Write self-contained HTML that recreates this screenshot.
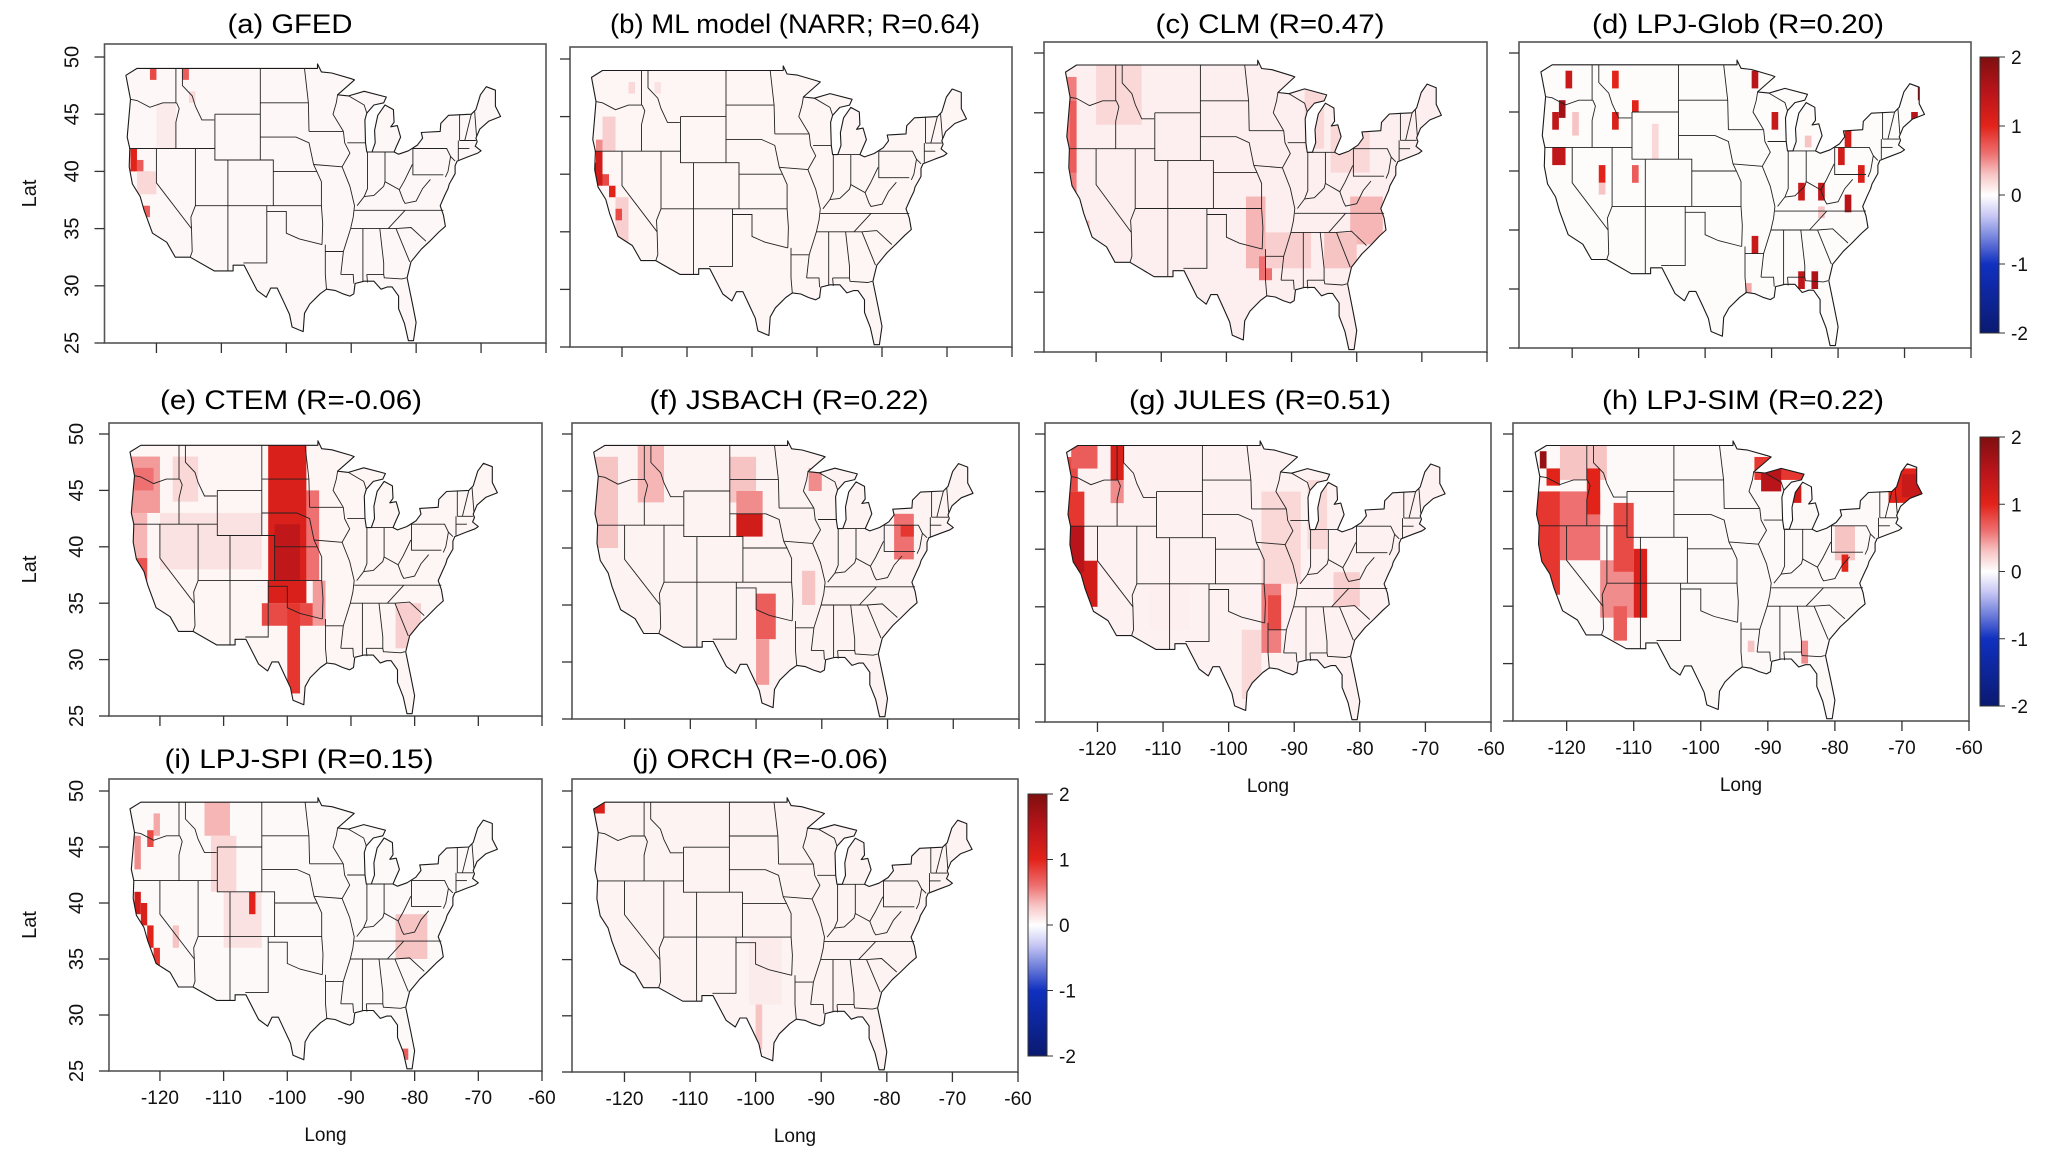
<!DOCTYPE html>
<html><head><meta charset="utf-8"><title>Fire emission maps</title>
<style>
html,body{margin:0;padding:0;background:#fff;}
svg{display:block;font-family:"Liberation Sans",sans-serif;}
</style></head>
<body>
<svg id="fig" width="2067" height="1155" viewBox="0 0 2067 1155" xmlns="http://www.w3.org/2000/svg">
<rect x="0" y="0" width="2067" height="1155" fill="#fff"/>
</svg>
<script>
// ---- data ----
const latTicks = [25, 30, 35, 40, 45, 50];
const lonTicks = [-120, -110, -100, -90, -80, -70, -60];
const cbTicks = [2, 1, 0, -1, -2];

const baseA = 0.04;
const cellsA = [[-124,40,-123,42,1.0],[-123,40,-122,41,0.7],[-122,39,-121,40,0.6],[-122,36,-121,37,0.7],[-121,48,-120,49,0.8],[-116,48,-115,49,0.7],[-123,38,-120,40,0.2],[-120,42,-117,46,0.1],[-115,46,-114,47,0.2]];
const baseB = 0.05;
const cellsB = [[-123,42,-121,45,0.25],[-121,34,-119,38,0.25],[-124,41,-123,43,0.5],[-125,40,-124,41,1.6],[-124,39,-123,42,1.2],[-123,39,-122,40,0.8],[-122,38,-121,39,1.0],[-121,36,-120,37,0.8],[-119,47,-118,48,0.2],[-115,47,-114,48,0.15]];
const baseC = 0.08;
const cellsC = [[-125,36,-123,48,0.55],[-124,40,-123,46,0.7],[-117,45,-116,49,0.45],[-123,33,-121,36,0.35],[-120,44,-113,49,0.2],[-97,32,-94,38,0.35],[-95,31,-93,33,0.6],[-94,32,-87,35,0.25],[-81,34,-76,38,0.35],[-85,32,-80,35,0.3],[-84,40,-78,44,0.2],[-88,42,-85,47,0.2]];
const baseD = 0.02;
const cellsD = [[-121,47,-120,48.5,1.3],[-114,47,-113,48.5,1.0],[-93,47,-92,48.5,1.5],[-122,44.5,-121,46,1.7],[-123,43.5,-122,45,1.4],[-114,43.5,-113,45,1.1],[-111,45,-110,46,1.0],[-90,43.5,-89,45,1.3],[-68,46,-67,47.5,1.8],[-69,43.5,-68,45,1.5],[-123,40.5,-121,42,1.4],[-116,39,-115,40.5,1.0],[-111,39,-110,40.5,0.7],[-79,42,-78,43.5,1.2],[-80,40.5,-79,42,1.2],[-77,39,-76,40.5,1.1],[-86,37.5,-85,39,1.3],[-83,37.5,-82,39,1.4],[-79,36.5,-78,38,1.5],[-93,33,-92,34.5,1.3],[-86,30,-85,31.5,1.4],[-84,30,-83,31.5,1.6],[-94,29,-93,30.5,0.4],[-116,38,-115,39,0.3],[-120,43,-119,45,0.3],[-108,41,-107,44,0.2],[-85,42,-84,43,0.3],[-83,36,-82,37,0.3]];
const baseE = 0.05;
const cellsE = [[-120,38,-104,43,0.15],[-118,44,-114,48,0.2],[-125,38,-122,43,0.35],[-125,43,-120,48,0.45],[-124,45,-121,47,0.6],[-124,36,-122,39,0.75],[-97,37,-95,45,0.6],[-96,33,-94,37,0.45],[-104,33,-96,35,0.8],[-103,35,-97,49,1.1],[-102,37,-98,42,1.4],[-100,27,-98,35,0.9],[-83,31,-79,35,0.25]];
const baseF = 0.06;
const cellsF = [[-125,40,-121,48,0.3],[-118,44,-114,49,0.35],[-104,44,-100,48,0.3],[-93,35,-91,38,0.3],[-103,43,-99,45,0.5],[-103,41,-99,43,1.2],[-100,32,-97,36,0.7],[-100,28,-98,32,0.45],[-79,39,-76,43,0.6],[-78,41,-76,42,0.9],[-92,45,-90,47,0.5]];
const baseG = 0.07;
const cellsG = [[-112,33,-106,37,0.08],[-95,37,-89,45,0.2],[-88,40,-85,46,0.2],[-84,35,-80,38,0.25],[-98,27,-95,33,0.2],[-124,33,-121,35,0.5],[-125,42,-122,45,0.9],[-125,45,-123,48,0.8],[-124,47,-120,49,0.7],[-124,35,-122,38,0.9],[-123,35,-120,39,1.2],[-125,38,-122,42,1.5],[-118,44,-116,46,0.5],[-118,46,-116,49,1.1],[-95,31,-92,37,0.55],[-94,33,-92,36,0.8]];
const baseH = 0.03;
const cellsH = [[-121,46,-114,49,0.3],[-80,39,-77,42,0.3],[-125,36,-121,45,0.9],[-121,39,-115,45,0.6],[-115,34,-110,39,0.5],[-117,43,-115,47,1.0],[-113,38,-110,44,0.8],[-110,34,-108,40,1.1],[-113,32,-111,35,0.7],[-124,47,-123,48.5,1.8],[-123,45.5,-121,47,1.0],[-92,46,-83,48,0.9],[-91,45,-88,47,1.5],[-87,44,-85,45.5,1.2],[-72,44,-67,47,1.0],[-70,44.5,-67,46.5,1.3],[-79,38,-78,39.5,1.0],[-85,30,-84,32,0.5],[-93,31,-92,32,0.3],[-85,28,-84,29,0.4]];
const baseI = 0.03;
const cellsI = [[-113,46,-109,49,0.35],[-112,41,-108,46,0.2],[-110,36,-104,41,0.15],[-83,35,-78,39,0.3],[-121,46,-120,48,0.4],[-118,36,-117,38,0.3],[-124,43,-123,46,0.5],[-124,39,-123,41,1.2],[-123,38,-122,40,1.1],[-122,36,-121,38,1.0],[-121,34,-120,36,0.9],[-122,45,-121,46.5,0.8],[-106,39,-105,41,1.0],[-82,26,-81,27,0.7]];
const baseJ = 0.06;
const cellsJ = [[-101,31,-96,37,0.1],[-100,27,-99,31,0.3],[-125,48,-123,49.5,1.1]];

// ---- geography (lon, lat) ----
const outline = [[-124.7,48.4],[-123.0,49.0],[-95.2,49.0],[-95.2,49.4],[-94.6,48.7],[-93.0,48.6],[-90.0,48.1],[-89.5,48.0],[-92.1,46.7],[-90.4,46.6],[-88.0,47.0],[-84.6,46.5],[-85.0,46.0],[-86.5,45.8],[-87.6,45.1],[-87.9,44.5],[-87.8,42.5],[-87.6,41.7],[-86.8,41.7],[-86.3,42.5],[-86.4,43.6],[-85.9,44.9],[-84.8,45.8],[-83.5,45.4],[-83.4,44.3],[-83.9,43.9],[-82.9,44.0],[-82.4,43.0],[-83.1,42.1],[-83.4,41.7],[-82.7,41.5],[-81.2,41.8],[-79.8,42.3],[-79.0,42.9],[-79.2,43.4],[-76.3,43.5],[-76.2,44.2],[-75.0,44.9],[-71.5,45.0],[-70.8,45.4],[-70.1,46.7],[-69.2,47.4],[-67.8,47.1],[-67.8,45.7],[-67.0,44.8],[-68.8,44.4],[-70.2,43.7],[-70.8,42.9],[-70.6,42.6],[-70.9,42.2],[-70.0,41.8],[-70.5,41.6],[-71.9,41.3],[-73.7,40.9],[-74.0,40.5],[-74.0,39.8],[-74.9,38.9],[-75.1,38.5],[-75.6,37.9],[-76.3,37.0],[-75.8,36.2],[-75.5,35.2],[-76.5,34.7],[-77.9,33.9],[-79.2,33.2],[-80.8,32.1],[-81.4,30.7],[-80.6,28.5],[-80.0,26.8],[-80.4,25.2],[-81.2,25.2],[-81.8,26.7],[-82.7,28.0],[-82.7,29.1],[-83.7,29.9],[-84.4,29.9],[-85.4,29.7],[-86.5,30.4],[-88.0,30.4],[-89.4,30.2],[-89.6,29.3],[-90.2,29.1],[-91.3,29.3],[-92.5,29.6],[-93.8,29.7],[-94.8,29.3],[-96.4,28.4],[-97.2,27.6],[-97.4,26.0],[-99.1,26.4],[-99.5,27.5],[-100.4,28.6],[-101.4,29.8],[-102.4,29.8],[-103.1,29.0],[-104.5,29.6],[-106.5,31.8],[-108.2,31.8],[-108.2,31.3],[-111.1,31.3],[-114.8,32.5],[-117.1,32.5],[-118.4,33.8],[-120.6,34.6],[-121.9,36.6],[-122.5,37.8],[-123.7,38.9],[-124.2,40.4],[-124.1,42.0],[-124.5,43.0],[-124.0,46.3],[-124.7,48.4]];
const borders = [
[[-124.0,46.3],[-123.0,46.2],[-121,45.6],[-119,46.0],[-116.9,46.0]],
[[-117.0,49],[-117.0,46.0]],
[[-116.9,46.0],[-116.5,45.5],[-117.0,44.3],[-117.0,42.0]],
[[-116.0,49],[-116.0,47.5],[-114.5,46.6],[-114.0,45.7],[-113.0,44.5],[-111.1,44.5]],
[[-124.2,42],[-111.0,42]],
[[-111.0,45],[-111.0,41],[-109,41]],
[[-111.0,45],[-104.0,45]],
[[-120,42],[-120,39],[-114.6,35.0]],
[[-114.0,42],[-114.0,37],[-114.7,36.0],[-114.6,35.0],[-114.5,33.0],[-114.8,32.5]],
[[-114,37],[-94.6,37]],
[[-109,41],[-109,31.3]],
[[-109,41],[-102,41],[-102,37]],
[[-104,49],[-104,41]],
[[-104,46],[-96.6,46]],
[[-97.2,49],[-96.6,46],[-96.5,43.5]],
[[-104,43],[-98.5,43],[-96.5,42.5],[-95.8,40.6],[-95.3,40],[-94.6,39.1],[-94.6,37],[-94.4,35.4],[-94.5,33.6]],
[[-102,40],[-95.3,40]],
[[-103,37],[-103,32],[-106.6,32]],
[[-103,36.5],[-100,36.5],[-100,34.6],[-98,34.1],[-94.5,33.6]],
[[-94.0,33.6],[-94.0,31],[-93.8,29.7]],
[[-94,33],[-91.2,33]],
[[-91.6,31],[-89.7,31],[-89.6,30.2]],
[[-96.5,43.5],[-91.2,43.5]],
[[-95.8,40.6],[-91.4,40.4]],
[[-91.2,43.5],[-91.0,42.5],[-90.2,41.6],[-91.4,40.4],[-90.2,38.7],[-89.5,37],[-89.7,36],[-90.1,35.0],[-91.2,33],[-91.6,31]],
[[-92.1,46.7],[-92.3,46.0],[-92.8,45.0],[-91.2,43.5]],
[[-90.6,42.5],[-87.8,42.5]],
[[-90.4,46.6],[-88.0,45.8],[-87.6,45.1]],
[[-87.5,41.7],[-87.5,38.5],[-88.0,37.8]],
[[-89.1,37.0],[-88.0,37.8],[-86.5,37.9],[-85,38.7],[-84.8,39.1],[-82.6,38.4],[-81.8,39.2],[-80.6,40.6]],
[[-87.5,41.7],[-83.4,41.7]],
[[-84.8,41.7],[-84.8,39.1]],
[[-80.5,42],[-80.5,39.7],[-75.8,39.7]],
[[-89.5,36.6],[-75.8,36.6]],
[[-82.6,38.4],[-82,37.5],[-81.7,37.2],[-80,37.4],[-79,38.5],[-77.8,39.3]],
[[-90.1,35],[-83.1,35]],
[[-84.3,35],[-81.7,36.6]],
[[-83.1,35],[-80.8,35.1],[-78.5,33.9]],
[[-83.1,35],[-81,32.1]],
[[-85.6,35],[-85.0,32],[-85,31]],
[[-87.6,31],[-85,31],[-84.9,30.7],[-82.2,30.6],[-81.5,30.7]],
[[-88.2,35],[-88.2,30.4]],
[[-87.6,31],[-87.5,30.3]],
[[-80.5,42],[-75.3,42],[-74.7,41.3],[-74.0,40.9]],
[[-74.7,41.3],[-75.1,40],[-75.5,39.5]],
[[-73.3,45],[-73.3,42.7]],
[[-72.5,42.7],[-71.5,45]],
[[-71.0,45.3],[-70.7,43.1]],
[[-73.3,42.7],[-70.8,42.7]],
[[-73.5,42],[-71.8,42]],
[[-73.5,42.7],[-73.5,41]]
];

// ---- layout ----
const NS = "http://www.w3.org/2000/svg";
const svg = document.getElementById('fig');
function mk(tag, attrs, parent){
  const e = document.createElementNS(NS, tag);
  for (const k in attrs) e.setAttribute(k, attrs[k]);
  parent.appendChild(e);
  return e;
}
const stops = [[-2,[10,26,112]],[-1,[16,48,192]],[-0.3,[200,200,244]],[0,[255,255,255]],[0.3,[247,196,196]],[0.6,[238,112,112]],[1.0,[226,35,26]],[1.5,[184,20,26]],[2,[127,15,15]]];
function color(v){
  v = Math.max(-2, Math.min(2, v));
  for (let i=0;i<stops.length-1;i++){
    const a=stops[i], b=stops[i+1];
    if (v>=a[0] && v<=b[0]){
      const t=(v-a[0])/(b[0]-a[0]);
      const c=a[1].map((x,j)=>Math.round(x+(b[1][j]-x)*t));
      return 'rgb('+c.join(',')+')';
    }
  }
  return '#fff';
}

const panels = [
  {key:'a', title:'(a) GFED', tx:290, ty:33, tw:125, box:[104.5,44,546,343], y50:57, lat:true, lon:false, base:baseA, cells:cellsA},
  {key:'b', title:'(b) ML model (NARR; R=0.64)', tx:795, ty:33, tw:370, box:[570,47,1012,347], y50:59, lat:false, lon:false, base:baseB, cells:cellsB},
  {key:'c', title:'(c) CLM (R=0.47)', tx:1270, ty:33, tw:229, box:[1044,42,1487,352], y50:53, lat:false, lon:false, base:baseC, cells:cellsC},
  {key:'d', title:'(d) LPJ-Glob (R=0.20)', tx:1738, ty:33, tw:292, box:[1519,42,1971,348], y50:53, lat:false, lon:false, base:baseD, cells:cellsD},
  {key:'e', title:'(e) CTEM (R=-0.06)', tx:291, ty:409, tw:262, box:[109,423,542,716], y50:434, lat:true, lon:false, base:baseE, cells:cellsE},
  {key:'f', title:'(f) JSBACH (R=0.22)', tx:789, ty:409, tw:279, box:[572,423,1019,719], y50:434, lat:false, lon:false, base:baseF, cells:cellsF},
  {key:'g', title:'(g) JULES (R=0.51)', tx:1260, ty:409, tw:262, box:[1045,423,1491,722], y50:434, lat:false, lon:true, base:baseG, cells:cellsG},
  {key:'h', title:'(h) LPJ-SIM (R=0.22)', tx:1743, ty:409, tw:282, box:[1513,423,1969,721], y50:434, lat:false, lon:true, base:baseH, cells:cellsH},
  {key:'i', title:'(i) LPJ-SPI (R=0.15)', tx:299, ty:768, tw:269, box:[109,779,542,1071], y50:791, lat:true, lon:true, base:baseI, cells:cellsI},
  {key:'j', title:'(j) ORCH (R=-0.06)', tx:760, ty:768, tw:256, box:[572,779,1018,1072], y50:791, lat:false, lon:true, base:baseJ, cells:cellsJ}
];

panels.forEach(p=>{
  const [L,T,R,B] = p.box;
  const pxd = (R-L)/68;
  const X = lon => R - (-60 - lon)*pxd;
  const Y = lat => B - (lat-25)*(B-p.y50)/25;
  const g = mk('g', {}, svg);
  
  

  const t = mk('text', {x:p.tx, y:p.ty, 'text-anchor':'middle', 'font-size':27, textLength:p.tw, lengthAdjust:'spacingAndGlyphs', fill:'#000'}, g);
  t.textContent = p.title;
  
  

  const frame = mk('rect', {x:L, y:T, width:R-L, height:B-T, fill:'#fff', stroke:'#555', 'stroke-width':1.6}, g);
  
  

  const d = 'M' + outline.map(q=>X(q[0]).toFixed(1)+','+Y(q[1]).toFixed(1)).join('L') + 'Z';
  const cp = mk('clipPath', {id:'clip-'+p.key}, g);
  mk('path', {d:d}, cp);
  const heat = mk('g', {'clip-path':'url(#clip-'+p.key+')'}, g);
  
  
  const bg = mk('path', {d:d, fill:color(p.base)}, heat);
  
  
  p.cells.forEach(c=>{
    const r = mk('rect', {x:X(c[0]), y:Y(c[3]), width:X(c[2])-X(c[0]), height:Y(c[1])-Y(c[3]), fill:color(c[4])}, heat);
    
    
  });

  const ol = mk('path', {d:d, fill:'none', stroke:'#1a1a1a', 'stroke-width':1.1, 'stroke-linejoin':'round'}, g);
  
  
  borders.forEach(b=>{
    const pl = mk('polyline', {points:b.map(q=>X(q[0]).toFixed(1)+','+Y(q[1]).toFixed(1)).join(' '), fill:'none', stroke:'#222', 'stroke-width':0.9}, g);
    
    
  });

  lonTicks.forEach(v=>{
    const tk = mk('line', {x1:X(v), x2:X(v), y1:B, y2:B+10, stroke:'#333', 'stroke-width':1.3}, g);
    
    
    if (p.lon){
      const tl = mk('text', {x:X(v), y:B+33, 'text-anchor':'middle', 'font-size':19, fill:'#111'}, g);
      tl.textContent = v;
      
      
    }
  });
  latTicks.forEach(v=>{
    const tk = mk('line', {x1:L-10, x2:L, y1:Y(v), y2:Y(v), stroke:'#333', 'stroke-width':1.3}, g);
    
    
    if (p.lat){
      const tl = mk('text', {x:0, y:0, 'text-anchor':'middle', 'font-size':20, fill:'#111', transform:'translate('+(L-26)+','+Y(v)+') rotate(-90)'}, g);
      tl.textContent = v;
      
      
    }
  });
  if (p.lat){
    const yl = mk('text', {x:0, y:0, 'text-anchor':'middle', 'font-size':20, fill:'#111', transform:'translate(36,'+((T+B)/2)+') rotate(-90)'}, g);
    yl.textContent = 'Lat';
    
    
  }
  if (p.lon){
    const xl = mk('text', {x:(L+R)/2, y:B+70, 'text-anchor':'middle', 'font-size':19, fill:'#111'}, g);
    xl.textContent = 'Long';
    
    
  }
});

// colour bars
const defs = mk('defs', {}, svg);
const grad = mk('linearGradient', {id:'cbgrad', x1:0, y1:0, x2:0, y2:1}, defs);
for (let i=0;i<=40;i++){
  const v = 2 - i*0.1;
  mk('stop', {offset:(i/40), 'stop-color':color(v)}, grad);
}
const bars = [[1980,57,1999,333],[1980,437,1999,706],[1028,794,1047,1056]];
bars.forEach((b,i)=>{
  const g = mk('g', {}, svg);
  
  
  mk('rect', {x:b[0], y:b[1], width:b[2]-b[0], height:b[3]-b[1], fill:'url(#cbgrad)', stroke:'#333', 'stroke-width':1}, g);
  cbTicks.forEach(v=>{
    const y = b[1] + (2 - v)/4*(b[3]-b[1]);
    mk('line', {x1:b[2], x2:b[2]+6, y1:y, y2:y, stroke:'#333', 'stroke-width':1}, g);
    const tl = mk('text', {x:b[2]+12, y:y+7, 'font-size':19, fill:'#111'}, g);
    tl.textContent = v;
    
    
  });
});
</script>
</body></html>
